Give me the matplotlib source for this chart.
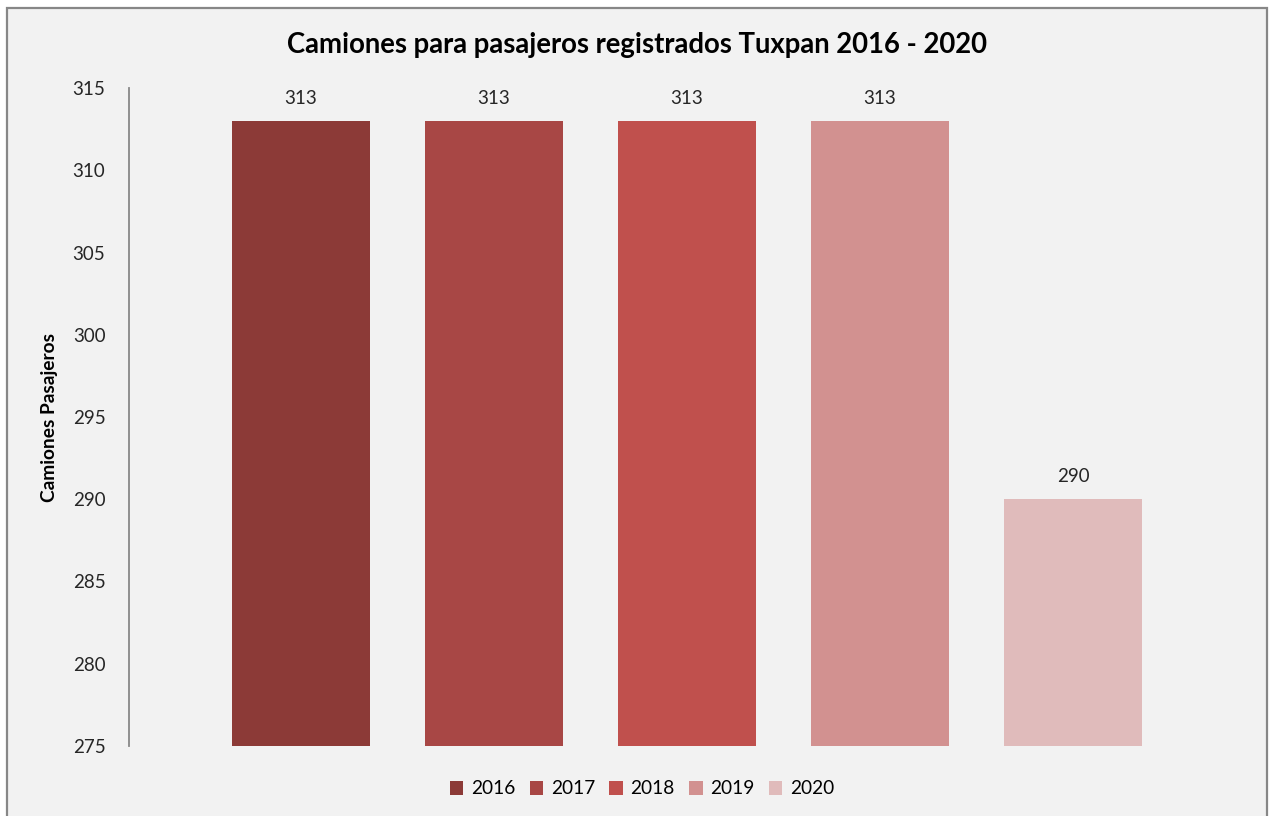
import matplotlib.pyplot as plt
from matplotlib.patches import Rectangle

# datos
years = ["2016", "2017", "2018", "2019", "2020"]
valores = [313, 313, 313, 313, 290]
colores = ["#8C3A37", "#A84745", "#C0504D", "#D29190", "#E0BBBB"]
yticks = [275, 280, 285, 290, 295, 300, 305, 310, 315]

plt.rcParams['font.family'] = ['Lato', 'DejaVu Sans']

fig = plt.figure(figsize=(12.69, 8.16), dpi=100)
fig.patch.set_facecolor("white")

# marco del grafico
W, H = 1269, 816
fig.patches.append(Rectangle((7 / W, -0.01), 1260 / W, 1 - 8 / H + 0.01,
                             transform=fig.transFigure, facecolor="#F2F2F2",
                             edgecolor="#878787", linewidth=1.6, zorder=-5))

ax = fig.add_axes([129 / W, 1 - 746 / H, (1245 - 129) / W, (746 - 88) / H])
ax.set_facecolor("none")

x = list(range(len(years)))
barras = ax.bar(x, valores, width=0.714, color=colores, label=years, zorder=2)
for xi, v in zip(x, valores):
    ax.text(xi, v + 0.85, str(v), ha="center", va="bottom", fontsize=13.5, color="#262626")

ax.set_ylim(275, 315)
ax.set_xlim(-0.891, 4.891)
ax.set_yticks(yticks)
ax.set_xticks([])
ax.tick_params(axis="y", length=0, pad=17, labelsize=13.5, labelcolor="#262626")
for s in ["top", "right", "bottom"]:
    ax.spines[s].set_visible(False)
ax.spines["left"].set_color("#888888")
ax.spines["left"].set_linewidth(1.3)

ax.set_ylabel("Camiones Pasajeros", fontsize=13.8, fontweight="bold")
ax.yaxis.set_label_coords(-0.064, 0.5)

fig.text(0.502, 1 - 45 / H, "Camiones para pasajeros registrados Tuxpan 2016 - 2020",
         ha="center", va="center", fontsize=19.8, fontweight="bold", color="black")

fig.legend(handles=barras, labels=years, loc="center", bbox_to_anchor=(0.506, 1 - 789 / H),
           ncol=5, frameon=False, fontsize=13.8, handlelength=0.7, handleheight=0.7,
           handletextpad=0.4, columnspacing=0.75)

fig.savefig("out.png", dpi=100)
